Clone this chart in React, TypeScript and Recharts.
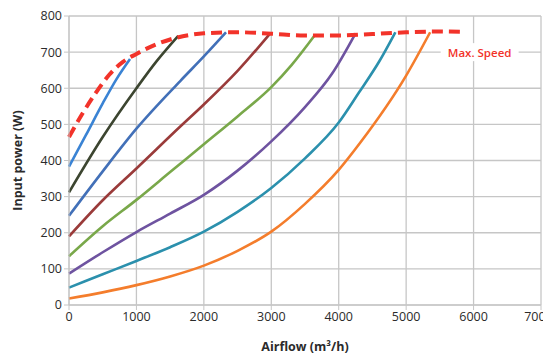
import React from "react";
import { LineChart, Line, XAxis, YAxis, CartesianGrid, ReferenceDot, Label } from "recharts";

// Airflow (m³/h) / input power (W) pairs
const maxSpeed = [
  { x: 0, y: 465 }, { x: 200, y: 530 }, { x: 400, y: 588 }, { x: 600, y: 638 }, { x: 800, y: 673 },
  { x: 1000, y: 695 }, { x: 1200, y: 714 }, { x: 1500, y: 735 }, { x: 2000, y: 752 }, { x: 2500, y: 755 },
  { x: 3000, y: 751 }, { x: 3500, y: 746 }, { x: 4000, y: 746 }, { x: 4500, y: 750 }, { x: 5000, y: 755 },
  { x: 5500, y: 757 }, { x: 5850, y: 756 },
];
const speed1 = [{ x: 0, y: 383 }, { x: 250, y: 470 }, { x: 500, y: 558 }, { x: 700, y: 624 }, { x: 905, y: 681 }];
const speed2 = [{ x: 0, y: 312 }, { x: 500, y: 465 }, { x: 1000, y: 600 }, { x: 1300, y: 675 }, { x: 1620, y: 745 }];
const speed3 = [{ x: 0, y: 247 }, { x: 500, y: 370 }, { x: 1000, y: 488 }, { x: 1650, y: 620 }, { x: 2000, y: 688 }, { x: 2330, y: 755 }];
const speed4 = [{ x: 0, y: 190 }, { x: 500, y: 290 }, { x: 1000, y: 378 }, { x: 1650, y: 494 }, { x: 2000, y: 555 }, { x: 2500, y: 648 }, { x: 2985, y: 752 }];
const speed5 = [{ x: 0, y: 135 }, { x: 500, y: 218 }, { x: 1000, y: 291 }, { x: 1500, y: 368 }, { x: 2000, y: 445 }, { x: 2500, y: 522 }, { x: 3000, y: 603 }, { x: 3300, y: 664 }, { x: 3650, y: 748 }];
const speed6 = [{ x: 0, y: 87 }, { x: 500, y: 146 }, { x: 1000, y: 202 }, { x: 1500, y: 253 }, { x: 2000, y: 305 }, { x: 2500, y: 372 }, { x: 3000, y: 453 }, { x: 3500, y: 548 }, { x: 3900, y: 640 }, { x: 4250, y: 752 }];
const speed7 = [{ x: 0, y: 48 }, { x: 500, y: 85 }, { x: 1000, y: 122 }, { x: 1500, y: 160 }, { x: 2000, y: 203 }, { x: 2500, y: 258 }, { x: 3000, y: 324 }, { x: 3500, y: 406 }, { x: 4000, y: 505 }, { x: 4300, y: 588 }, { x: 4600, y: 674 }, { x: 4840, y: 755 }];
const speed8 = [{ x: 0, y: 18 }, { x: 500, y: 35 }, { x: 1000, y: 55 }, { x: 1500, y: 79 }, { x: 2000, y: 109 }, { x: 2500, y: 150 }, { x: 3000, y: 203 }, { x: 3500, y: 280 }, { x: 4000, y: 374 }, { x: 4318, y: 449 }, { x: 5000, y: 635 }, { x: 5356, y: 755 }];

const speedCurves = [speed1, speed2, speed3, speed4, speed5, speed6, speed7, speed8];
const speedColors = ["#3a83d4", "#3c4530", "#4270b8", "#9a3b3a", "#79a84a", "#6e53a0", "#2b90ad", "#f47d2c"];

const xTicks = [0, 1000, 2000, 3000, 4000, 5000, 6000, 7000];
const yTicks = [0, 100, 200, 300, 400, 500, 600, 700, 800];
const maxLabel = "Max. Speed";
const maxLabelPos = { x: 6090, y: 700 };

const FONT = "'Open Sans', 'Noto Sans', sans-serif";
const GRID = "#c6c6c6";
const RED = "#f2332a";
const INK = "#2b2b2b";

const MaxSpeedLabel = (props: any) => {
  const { viewBox } = props;
  const cx = viewBox.x;
  const cy = viewBox.y;
  return (
    <g>
      <rect x={cx - 39} y={cy - 9} width={78} height={18} fill="#ffffff" />
      <text x={cx} y={cy} textAnchor="middle" dominantBaseline="central" fill={RED} fontSize={11.5} fontWeight={600} fontFamily={FONT}>
        {maxLabel}
      </text>
    </g>
  );
};

export default function App() {
  return (
    <LineChart width={543} height={350} margin={{ top: 8, right: 10, left: 0, bottom: 0 }} style={{ fontFamily: FONT }}>
      <CartesianGrid stroke={GRID} strokeWidth={1.3} />
      <XAxis
        type="number"
        dataKey="x"
        domain={[0, 7000]}
        ticks={xTicks}
        height={53}
        tickSize={5}
        stroke={GRID}
        tick={{ fill: INK, fontSize: 12.5, fontFamily: FONT }}
        allowDuplicatedCategory={false}
      >
        <Label value="Airflow (m³/h)" position="insideBottom" offset={7} style={{ fill: INK, fontSize: 12.5, fontWeight: 700, fontFamily: FONT }} />
      </XAxis>
      <YAxis
        type="number"
        dataKey="y"
        domain={[0, 800]}
        ticks={yTicks}
        width={61}
        tickSize={5}
        stroke={GRID}
        tick={{ fill: INK, fontSize: 12.5, fontFamily: FONT }}
      >
        <Label value="Input power (W)" angle={-90} position="insideLeft" offset={10} style={{ textAnchor: "middle", fill: INK, fontSize: 12.5, fontWeight: 700, fontFamily: FONT }} />
      </YAxis>
      {speedCurves.map((d, i) => (
        <Line key={i} data={d} dataKey="y" type="monotone" stroke={speedColors[i]} strokeWidth={2.6} dot={false} isAnimationActive={false} />
      ))}
      <Line data={maxSpeed} dataKey="y" type="monotone" stroke={RED} strokeWidth={4} strokeDasharray="11 6" dot={false} isAnimationActive={false} />
      <ReferenceDot x={maxLabelPos.x} y={maxLabelPos.y} r={0} stroke="none" fill="none" label={<MaxSpeedLabel />} />
    </LineChart>
  );
}
